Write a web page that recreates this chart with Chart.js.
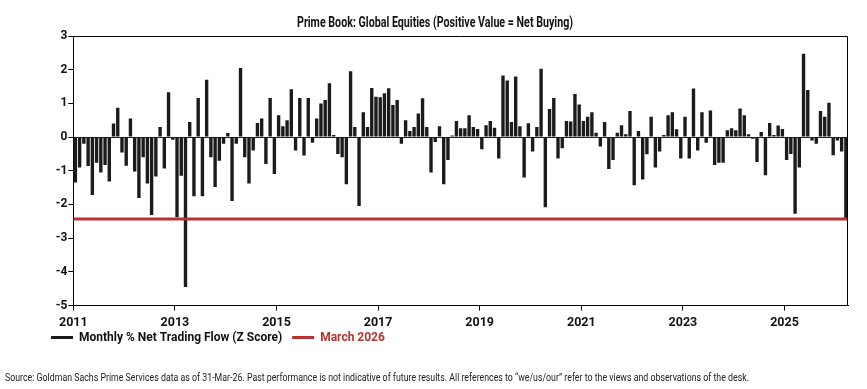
<!DOCTYPE html>
<html>
<head>
<meta charset="utf-8">
<script src="https://cdn.jsdelivr.net/npm/chart.js@4.4.1/dist/chart.umd.min.js"></script>
<style>
  html, body { margin: 0; padding: 0; background: #fff; }
  #wrap { position: relative; width: 867px; height: 389px; }
</style>
</head>
<body>
<div id="wrap"><canvas id="c"></canvas></div>
<script>
// ---- data (monthly Z scores, Jan 2011 .. Mar 2026) ----
const startYear = 2011;
const flow2011 = [-1.35, -0.9, -0.2, -0.86, -1.72, -0.76, -1.05, -0.83, -1.32, 0.4, 0.87, -0.46];
const flow2012 = [-0.85, 0.55, -1.02, -1.81, -0.6, -1.38, -2.31, -1.17, 0.3, -0.93, 1.33, -0.08];
const flow2013 = [-2.38, -1.15, -4.45, 0.45, -1.76, 1.16, -1.76, 1.7, -0.6, -1.48, -0.7, -0.2];
const flow2014 = [0.12, -1.9, -0.2, 2.05, -0.6, -1.38, -0.4, 0.42, 0.55, -0.8, 1.16, -1.1];
const flow2015 = [0.65, 0.32, 0.5, 1.42, -0.4, 1.16, -0.55, 1.16, -0.17, 0.55, 1.0, 1.1];
const flow2016 = [1.6, 0.06, -0.5, -0.6, -1.4, 1.95, 0.3, -2.05, 0.74, 0.3, 1.46, 1.2];
const flow2017 = [1.18, 1.3, 1.45, 0.95, 1.1, -0.2, 0.5, 0.18, 0.3, 0.7, 1.15, 0.3];
const flow2018 = [-1.05, -0.15, 0.32, -1.4, -0.68, 0.05, 0.48, 0.26, 0.26, 0.65, 0.3, 0.24];
const flow2019 = [-0.36, 0.35, 0.48, 0.28, -0.64, 1.83, 1.68, 0.45, 1.8, 0.32, -1.2, 0.41];
const flow2020 = [-0.43, 0.3, 2.03, -2.08, 0.83, 1.16, -0.64, -0.33, 0.48, 0.46, 1.28, 0.97];
const flow2021 = [0.48, 0.6, 0.74, 0.13, -0.28, 0.45, -0.95, -0.68, 0.13, 0.35, 0.08, 0.77];
const flow2022 = [-1.43, 0.18, -1.26, -0.51, 0.6, -0.9, -0.43, 0.06, 0.65, 0.74, 0.23, -0.64];
const flow2023 = [0.6, -0.64, 1.44, -0.4, 0.74, -0.17, 0.79, -0.83, -0.76, -0.76, 0.2, 0.26];
const flow2024 = [0.2, 0.85, 0.65, 0.08, -0.05, -0.74, 0.15, -1.13, 0.42, 0.06, 0.34, 0.24];
const flow2025 = [-0.68, -0.5, -2.28, -0.9, 2.47, 1.4, -0.1, -0.2, 0.77, 0.6, 1.02, -0.54];
const flow2026 = [-0.1, -0.43, -2.43];
const march2026Level = -2.43;

const xTickYears = [2011, 2013, 2015, 2017, 2019, 2021, 2023, 2025];
const yTicks = [-5, -4, -3, -2, -1, 0, 1, 2, 3];

const titleText = 'Prime Book: Global Equities (Positive Value = Net Buying)';
const seriesLabel = 'Monthly % Net Trading Flow (Z Score)';
const lineLabel = 'March 2026';
const sourceText = 'Source: Goldman Sachs Prime Services data as of 31-Mar-26. Past performance is not indicative of future results. All references to \u201cwe/us/our\u201d refer to the views and observations of the desk.';

// ---- build ----
const allFlows = [].concat(flow2011, flow2012, flow2013, flow2014, flow2015, flow2016,
  flow2017, flow2018, flow2019, flow2020, flow2021, flow2022, flow2023, flow2024, flow2025, flow2026);
const barPoints = allFlows.map((v, i) => ({ x: startYear + (i + 0.5) / 12, y: v }));
const xMin = startYear;
const xMax = startYear + allFlows.length / 12;

const FONT = "Roboto, 'Liberation Sans', sans-serif";
const BAR = '#1b1b1b';
const RED = '#b83232';

const framePlugin = {
  id: 'frame',
  afterDatasetsDraw(chart) {
    const { ctx, chartArea: { left, top, right, bottom } } = chart;
    ctx.save();
    ctx.strokeStyle = '#000';
    ctx.lineWidth = 1;
    ctx.beginPath();
    ctx.moveTo(left, Math.round(top) + 0.5);
    ctx.lineTo(Math.round(right) - 0.5, Math.round(top) + 0.5);
    ctx.lineTo(Math.round(right) - 0.5, bottom);
    ctx.stroke();
    ctx.restore();
  }
};

// narrow the title / source boxes so the text is drawn condensed (fillText maxWidth),
// and shift the legend to start under the y-axis labels
const placePlugin = {
  id: 'place',
  afterLayout(chart) {
    chart.boxes.forEach(b => {
      if (b === chart.legend) { b.left = 41; b.top -= 7; b.bottom -= 7; }
      else if (b.options && b.options.text === sourceText) { b.left = 5; b.right = 749; }
      else if (b.options && b.options.text === titleText) { b.left = 297; b.right = 573; }
    });
  }
};

new Chart(document.getElementById('c'), {
  type: 'bar',
  data: {
    datasets: [
      {
        type: 'bar',
        label: seriesLabel,
        data: barPoints,
        backgroundColor: BAR,
        borderWidth: 0,
        barPercentage: 0.8,
        categoryPercentage: 1.0,
        order: 1
      },
      {
        type: 'line',
        label: lineLabel,
        data: [{ x: xMin, y: march2026Level }, { x: xMax, y: march2026Level }],
        borderColor: RED,
        borderWidth: 3,
        pointRadius: 0,
        fill: false,
        order: 0
      }
    ]
  },
  options: {
    responsive: true,
    maintainAspectRatio: false,
    animation: false,
    layout: { padding: { left: 0, right: 19, top: 0, bottom: 0 } },
    scales: {
      x: {
        type: 'linear',
        min: xMin,
        max: xMax,
        offset: false,
        afterBuildTicks: s => { s.ticks = xTickYears.map(v => ({ value: v })); },
        afterFit: s => { s.height = 23; },
        grid: { display: true, drawOnChartArea: false, offset: false, tickLength: 5, tickColor: '#000' },
        border: { display: true, color: '#000', width: 1 },
        ticks: {
          autoSkip: false, maxRotation: 0, padding: 5,
          color: '#111',
          font: { family: FONT, size: 12.5, weight: 'bold' },
          callback: v => String(v)
        }
      },
      y: {
        min: -5,
        max: 3,
        afterBuildTicks: s => { s.ticks = yTicks.map(v => ({ value: v })); },
        afterFit: s => { s.width = 73.3; },
        grid: {
          display: true,
          drawOnChartArea: true,
          color: c => (c.tick && c.tick.value === 0) ? '#222' : 'rgba(0,0,0,0)',
          tickColor: '#000',
          tickLength: 5
        },
        border: { display: true, color: '#000', width: 1 },
        ticks: {
          padding: 1,
          color: '#111',
          font: { family: FONT, size: 12, weight: 'bold' },
          callback: v => String(v)
        }
      }
    },
    plugins: {
      tooltip: { enabled: false },
      title: {
        display: true,
        text: titleText,
        color: '#111',
        font: { family: FONT, size: 14, weight: 'bold', lineHeight: 1.2 },
        padding: { top: 15, bottom: 4.2 }
      },
      subtitle: {
        display: true,
        text: sourceText,
        position: 'bottom',
        align: 'start',
        color: '#222',
        font: { family: FONT, size: 10, weight: 'normal', lineHeight: 1.2 },
        padding: { top: 11.5, bottom: 5 }
      },
      legend: {
        display: true,
        position: 'bottom',
        align: 'start',
        labels: {
          boxWidth: 22,
          boxHeight: 3,
          padding: 10,
          font: { family: FONT, size: 12, weight: 'bold' },
          generateLabels: () => [
            { text: seriesLabel, fillStyle: BAR, strokeStyle: BAR, lineWidth: 0, fontColor: '#111', datasetIndex: 0, hidden: false },
            { text: lineLabel, fillStyle: RED, strokeStyle: RED, lineWidth: 0, fontColor: RED, datasetIndex: 1, hidden: false }
          ]
        }
      }
    }
  },
  plugins: [framePlugin, placePlugin]
});
</script>
</body>
</html>
